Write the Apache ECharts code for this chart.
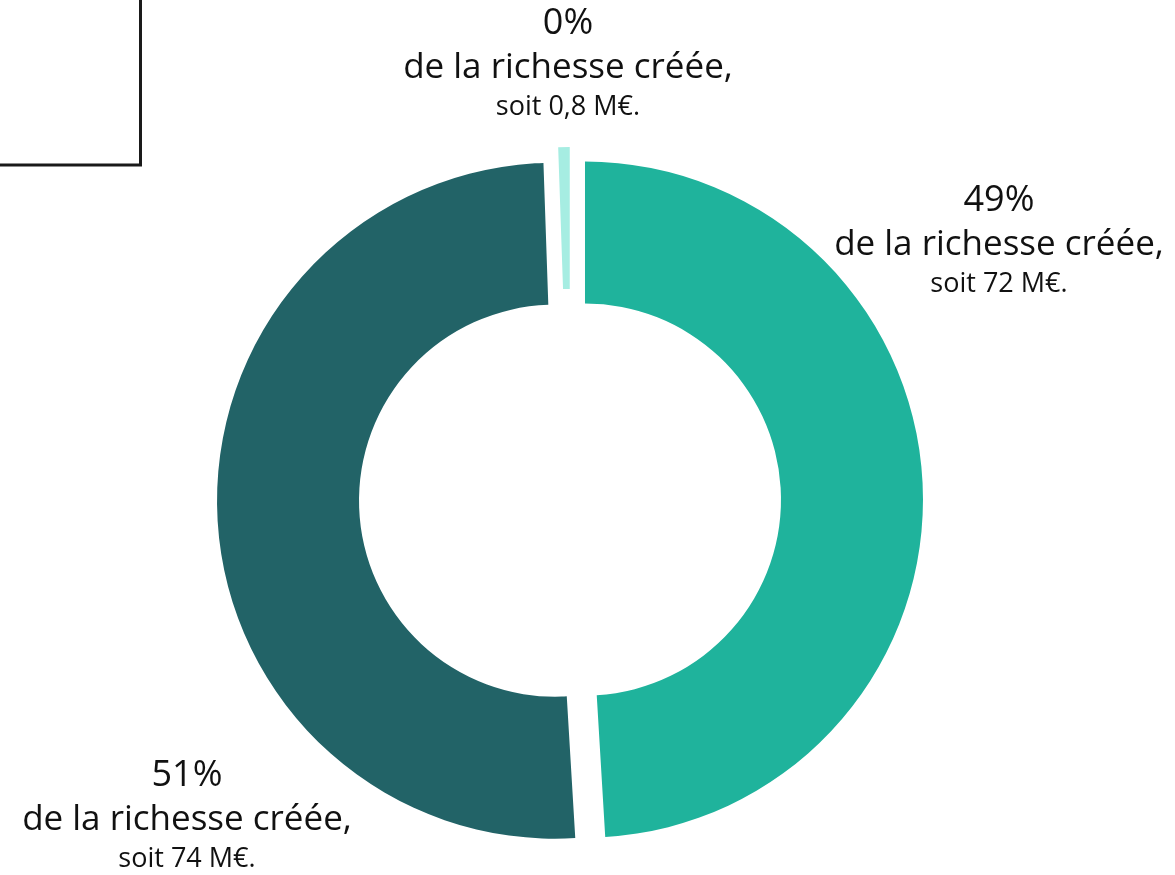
<!DOCTYPE html>
<html>
<head>
<meta charset="utf-8">
<script src="https://cdn.jsdelivr.net/npm/echarts@6/dist/echarts.min.js"></script>
<style>
  html, body { margin: 0; padding: 0; background: #fff; }
  #chart { width: 1175px; height: 875px; }
</style>
</head>
<body>
<div id="chart"></div>
<script>
// valeurs (M€)
var names = ['Part A', 'Part B', 'Part C'];
var values = [72, 74, 0.8];
var percents = ['49%', '51%', '0%'];
var amounts = ['72', '74', '0,8'];
var colors = ['#1fb39c', '#226367', '#a6ede2'];

// position des étiquettes (centre haut de chaque bloc)
var labelPos = [
    { x: 999, y: 178 },
    { x: 187, y: 753 },
    { x: 568, y: 1 }
];

var myChart = echarts.init(document.getElementById('chart'));

var pieData = values.map(function (v, i) {
    return {
        name: names[i],
        value: v,
        selected: true,
        itemStyle: { color: colors[i] }
    };
});

// étiquettes en texte riche, une par part
var labels = values.map(function (v, i) {
    return {
        type: 'text',
        x: labelPos[i].x,
        y: labelPos[i].y,
        silent: true,
        style: {
            text: '{p|' + percents[i] + '}\n{d|de la richesse créée,}\n{s|soit ' + amounts[i] + ' M€.}',
            align: 'center',
            verticalAlign: 'top',
            fill: '#111',
            rich: {
                p: { fontSize: 36, lineHeight: 45, fontFamily: 'Open Sans', fill: '#111', align: 'center' },
                d: { fontSize: 35, lineHeight: 45, fontFamily: 'Open Sans', fill: '#111', align: 'center' },
                s: { fontSize: 27, lineHeight: 33, fontFamily: 'Open Sans', fill: '#111', align: 'center' }
            }
        }
    };
});

var option = {
    animation: false,
    graphic: [
        {
            type: 'rect',
            shape: { x: -10, y: -10, width: 150.5, height: 175 },
            style: { fill: 'none', stroke: '#1a1a1a', lineWidth: 3 }
        }
    ].concat(labels),
    series: [
        {
            type: 'pie',
            center: [570, 500],
            radius: [196, 338],
            startAngle: 90,
            clockwise: true,
            selectedMode: 'multiple',
            selectedOffset: 15,
            emphasis: { disabled: true },
            label: { show: false },
            labelLine: { show: false },
            data: pieData
        }
    ]
};

myChart.setOption(option);
</script>
</body>
</html>
